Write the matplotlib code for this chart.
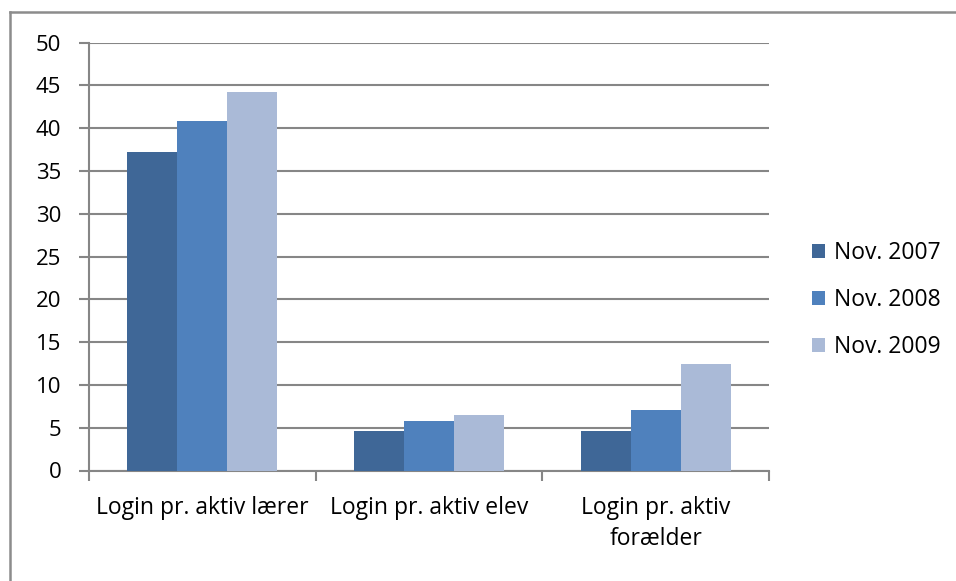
import numpy as np
import matplotlib.pyplot as plt
from matplotlib.lines import Line2D

plt.rcParams['font.family'] = ['Open Sans', 'DejaVu Sans']

categories = ['Login pr. aktiv lærer', 'Login pr. aktiv elev', 'Login pr. aktiv\nforælder']
series = ['Nov. 2007', 'Nov. 2008', 'Nov. 2009']
v2007 = [37.2, 4.65, 4.65]
v2008 = [40.8, 5.8, 7.1]
v2009 = [44.2, 6.5, 12.4]
colors = ['#3F6797', '#4F81BD', '#AABAD7']

fig = plt.figure(figsize=(9.56, 5.81), dpi=100)
ax = fig.add_axes([89/956, 1 - 470.5/581, 680/956, 427.8/581])

x = np.arange(len(categories))
w = 0.2206
for i, (vals, lab) in enumerate(zip([v2007, v2008, v2009], series)):
    ax.bar(x + (i - 1) * w, vals, w, color=colors[i], label=lab, zorder=3)

ax.set_xlim(-0.5, 2.5)
ax.set_ylim(0, 50)
ax.set_yticks(np.arange(0, 51, 5))
ax.yaxis.grid(True, color='#868686', linewidth=1.5, zorder=0)
for s in ['top', 'right']:
    ax.spines[s].set_visible(False)
ax.spines['left'].set_color('#868686')
ax.spines['left'].set_linewidth(1.5)
ax.spines['bottom'].set_color('#868686')
ax.spines['bottom'].set_linewidth(1.5)
ax.tick_params(axis='y', length=7, width=1.5, color='#868686', labelsize=16, pad=13)
ax.set_xticks([-0.5, 0.5, 1.5, 2.5])
ax.set_xticklabels([])
ax.tick_params(axis='x', length=7, width=1.5, color='#868686')
for xi, c in zip(x, categories):
    ax.text(xi, -2.95, c, ha='center', va='top', fontsize=16.5, linespacing=1.4)

ax.legend(loc='center left', bbox_to_anchor=(1.033, 0.398), frameon=False, fontsize=16.5,
          handlelength=0.55, handleheight=0.55, handletextpad=0.4, labelspacing=1.0)

# outer chart border (top and left visible)
fig.add_artist(Line2D([10/956, 10/956], [0, 1 - 12/581], color='#8C8C8C', linewidth=1.8))
fig.add_artist(Line2D([10/956, 1], [1 - 12/581, 1 - 12/581], color='#8C8C8C', linewidth=1.8))

fig.savefig('out.png', dpi=100)
